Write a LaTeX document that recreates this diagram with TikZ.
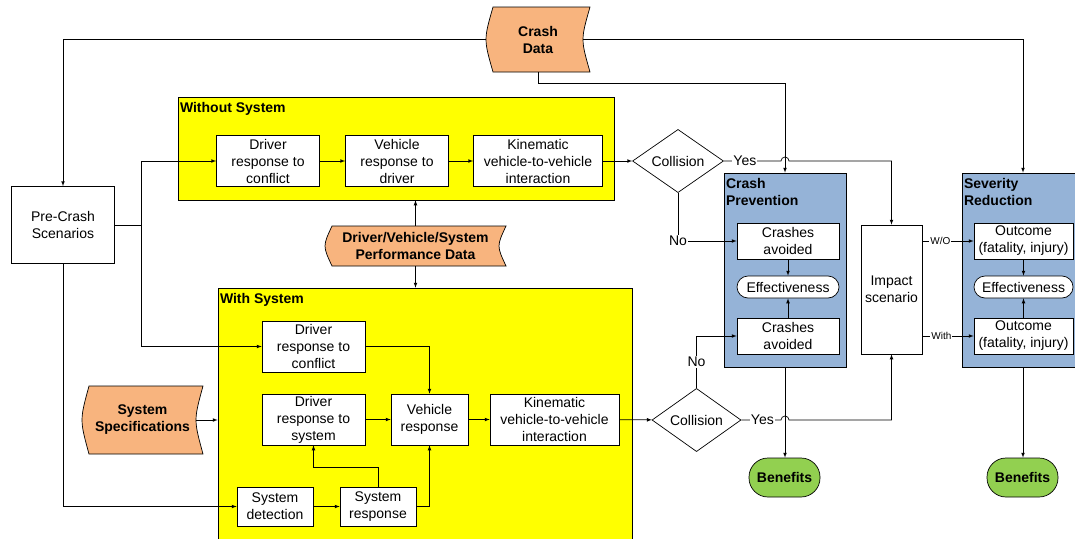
\documentclass[tikz,border=0pt]{standalone}
\usepackage{fontspec}
\setmainfont{Liberation Sans}
\usetikzlibrary{shapes.geometric,arrows,calc}
\definecolor{boxyellow}{RGB}{255,255,0}
\definecolor{boxblue}{RGB}{149,179,215}
\definecolor{dataorange}{RGB}{248,180,126}
\definecolor{benefitgreen}{RGB}{146,208,80}
\newcommand{\basefont}{\fontsize{14}{17}\selectfont}
% curved data shape: name, x, y, half width, half height, text
\newcommand{\datashape}[6]{%
  \draw[fill=dataorange] ({#2-#4+7},{#3-#5}) -- ({#2+#4},{#3-#5})
    .. controls ({#2+#4-9.3},{#3}) .. ({#2+#4},{#3+#5})
    -- ({#2-#4+7},{#3+#5})
    .. controls ({#2-#4-2.3},{#3}) .. ({#2-#4+7},{#3-#5}) -- cycle;
  \coordinate (#1-e) at ({#2+#4-7},{#3});
  \node[datatext, minimum width={2*#4}, minimum height={2*#5}] (#1) at (#2,#3) {#6};
}
\tikzset{
  box/.style={draw, fill=white, align=center, inner sep=0pt},
  group/.style={draw, inner sep=0pt},
  title/.style={anchor=north west, inner xsep=2pt, inner ysep=5pt, align=left, font=\basefont\bfseries},
  datatext/.style={align=center, inner sep=0pt, font=\basefont\bfseries},
  decision/.style={draw, diamond, fill=white, inner sep=0pt},
  pill/.style={box, rounded corners=11pt},
  benefit/.style={draw, fill=benefitgreen, rounded corners=19pt, inner sep=0pt, font=\basefont\bfseries},
  lbl/.style={fill=white, inner sep=1pt},
  small/.style={lbl, font=\fontsize{10}{12}\selectfont}
}
\begin{document}
\begin{tikzpicture}[x=1pt, y=-1pt, >=latex, line width=0.7pt, font=\basefont]
  \useasboundingbox (0,0) rectangle (1075,538);
  % groups
  \node[group, fill=boxyellow, minimum width=436, minimum height=103] (wos) at (396,148.5) {};
  \node[title] (wostitle) at (wos.north west) {Without System};
  \node[group, fill=boxyellow, minimum width=414, minimum height=272] (ws) at (425,424) {};
  \node[title] (wstitle) at (ws.north west) {With System};
  \node[group, fill=boxblue, minimum width=122, minimum height=194] (cprev) at (785,270) {};
  \node[title] (cprevtitle) at (cprev.north west) {Crash\\Prevention};
  \node[group, fill=boxblue, minimum width=122, minimum height=194] (sred) at (1023,270) {};
  \node[title] (sredtitle) at (sred.north west) {Severity\\Reduction};

  % data sources
  \datashape{cdata}{538}{39.5}{52}{32.5}{Crash\\Data}
  \datashape{pdata}{415.5}{246}{90.5}{20}{Driver/Vehicle/System\\Performance Data}
  \datashape{sspec}{142.5}{420}{60.5}{34}{System\\Specifications}

  \node[box, minimum width=103, minimum height=77] (prec) at (63,225) {Pre-Crash\\Scenarios};

  % without system
  \node[box, minimum width=103, minimum height=51] (drc1) at (268,161) {Driver\\response to\\conflict};
  \node[box, minimum width=103, minimum height=51] (vrd1) at (397,161) {Vehicle\\response to\\driver};
  \node[box, minimum width=129, minimum height=51] (kin1) at (538,161) {Kinematic\\vehicle-to-vehicle\\interaction};
  \node[decision, minimum width=91, minimum height=54] (coll1) at (678,161) {Collision};

  % with system
  \node[box, minimum width=103, minimum height=51] (drc2) at (313.5,346.5) {Driver\\response to\\conflict};
  \node[box, minimum width=103, minimum height=51] (drs) at (313.5,419.5) {Driver\\response to\\system};
  \node[box, minimum width=77, minimum height=51] (vresp) at (429.5,419.5) {Vehicle\\response};
  \node[box, minimum width=129, minimum height=51] (kin2) at (554.5,419.5) {Kinematic\\vehicle-to-vehicle\\interaction};
  \node[box, minimum width=76, minimum height=39] (sdet) at (275,506.5) {System\\detection};
  \node[box, minimum width=76, minimum height=39] (sresp) at (378,506.5) {System\\response};
  \node[decision, minimum width=89, minimum height=54] (coll2) at (696.5,420) {Collision};

  % crash prevention
  \node[box, minimum width=102, minimum height=36] (cavo1) at (788,241) {Crashes\\avoided};
  \node[pill, minimum width=102, minimum height=22] (eff1) at (788,287) {Effectiveness};
  \node[box, minimum width=102, minimum height=36] (cavo2) at (788,336) {Crashes\\avoided};
  \node[benefit, minimum width=71, minimum height=39] (ben1) at (784.5,477.5) {Benefits};

  \node[box, minimum width=61, minimum height=129] (impact) at (891.5,289.5) {Impact\\scenario};

  % severity reduction
  \node[box, minimum width=99, minimum height=36] (out1) at (1023.5,241) {Outcome\\(fatality, injury)};
  \node[pill, minimum width=99, minimum height=22] (eff2) at (1023.5,287) {Effectiveness};
  \node[box, minimum width=99, minimum height=36] (out2) at (1023.5,336) {Outcome\\(fatality, injury)};
  \node[benefit, minimum width=71, minimum height=39] (ben2) at (1022.5,477.5) {Benefits};

  % connectors
  \draw[->] (cdata.west) -| (prec.north);
  \draw[->] (cdata.south) -- ++(0,11) -| (cprev.north);
  \draw[->] (cdata-e) -| (sred.north);
  \draw (prec.east) -- ++(26,0) coordinate (split);
  \draw[->] (split) |- (drc1.west);
  \draw[->] (split) |- (drc2.west);
  \draw[->] (prec.south) |- (sdet.west);

  \draw[->] (drc1) -- (vrd1);
  \draw[->] (vrd1) -- (kin1);
  \draw[->] (kin1) -- (coll1);
  \draw[->] (pdata.north) -- (pdata.north |- wos.south);
  \draw[->] (pdata.south) -- (pdata.south |- ws.north);
  \draw[->] (sspec-e) -- (sspec-e -| ws.west);

  \draw[->] (drc2.east) -| (vresp.north);
  \draw[->] (drs) -- (vresp);
  \draw[->] (vresp) -- (kin2);
  \draw[->] (kin2) -- (coll2);
  \draw[->] (sdet) -- (sresp);
  \draw[->] (sresp.east) -| (vresp.south);
  \draw[->] (sresp.north) -- ++(0,-19) -| (drs.south);

  % collision outcomes
  \path (cprev.north |- coll1.east) coordinate (cross1);
  \path (cprev.south |- coll2.east) coordinate (cross2);
  \draw[->] (coll1.east) -- ([xshift=-4pt]cross1) arc[start angle=180, end angle=360, radius=4]
    -- (impact.north |- coll1.east) -- (impact.north);
  \node[lbl] (yes1) at ([xshift=21pt]coll1.east) {Yes};
  \draw[->] (coll1.south) |- (cavo1.west);
  \node[lbl] (no1) at (coll1.south |- cavo1.west) {No};
  \draw[->] (coll2.east) -- ([xshift=-4pt]cross2) arc[start angle=180, end angle=360, radius=4]
    -- (impact.south |- coll2.east) -- (impact.south);
  \node[lbl] (yes2) at ([xshift=21pt]coll2.east) {Yes};
  \draw[->] (coll2.north) |- (cavo2.west);
  \node[lbl] (no2) at ($(coll2.north)!0.5!(coll2.north |- cavo2.west)$) {No};

  \draw[->] (cavo1) -- (eff1);
  \draw[->] (cavo2) -- (eff1);
  \draw[->] (cprev.south) -- (cprev.south |- ben1.north);

  \draw[->] (impact.east |- out1.west) -- (out1.west);
  \node[small] (wolbl) at ($(impact.east |- out1.west)!0.35!(out1.west)$) {W/O};
  \draw[->] (impact.east |- out2.west) -- (out2.west);
  \node[small] (withlbl) at ($(impact.east |- out2.west)!0.37!(out2.west)$) {With};
  \draw[->] (out1) -- (eff2);
  \draw[->] (out2) -- (eff2);
  \draw[->] (sred.south) -- (sred.south |- ben2.north);
\end{tikzpicture}
\end{document}
